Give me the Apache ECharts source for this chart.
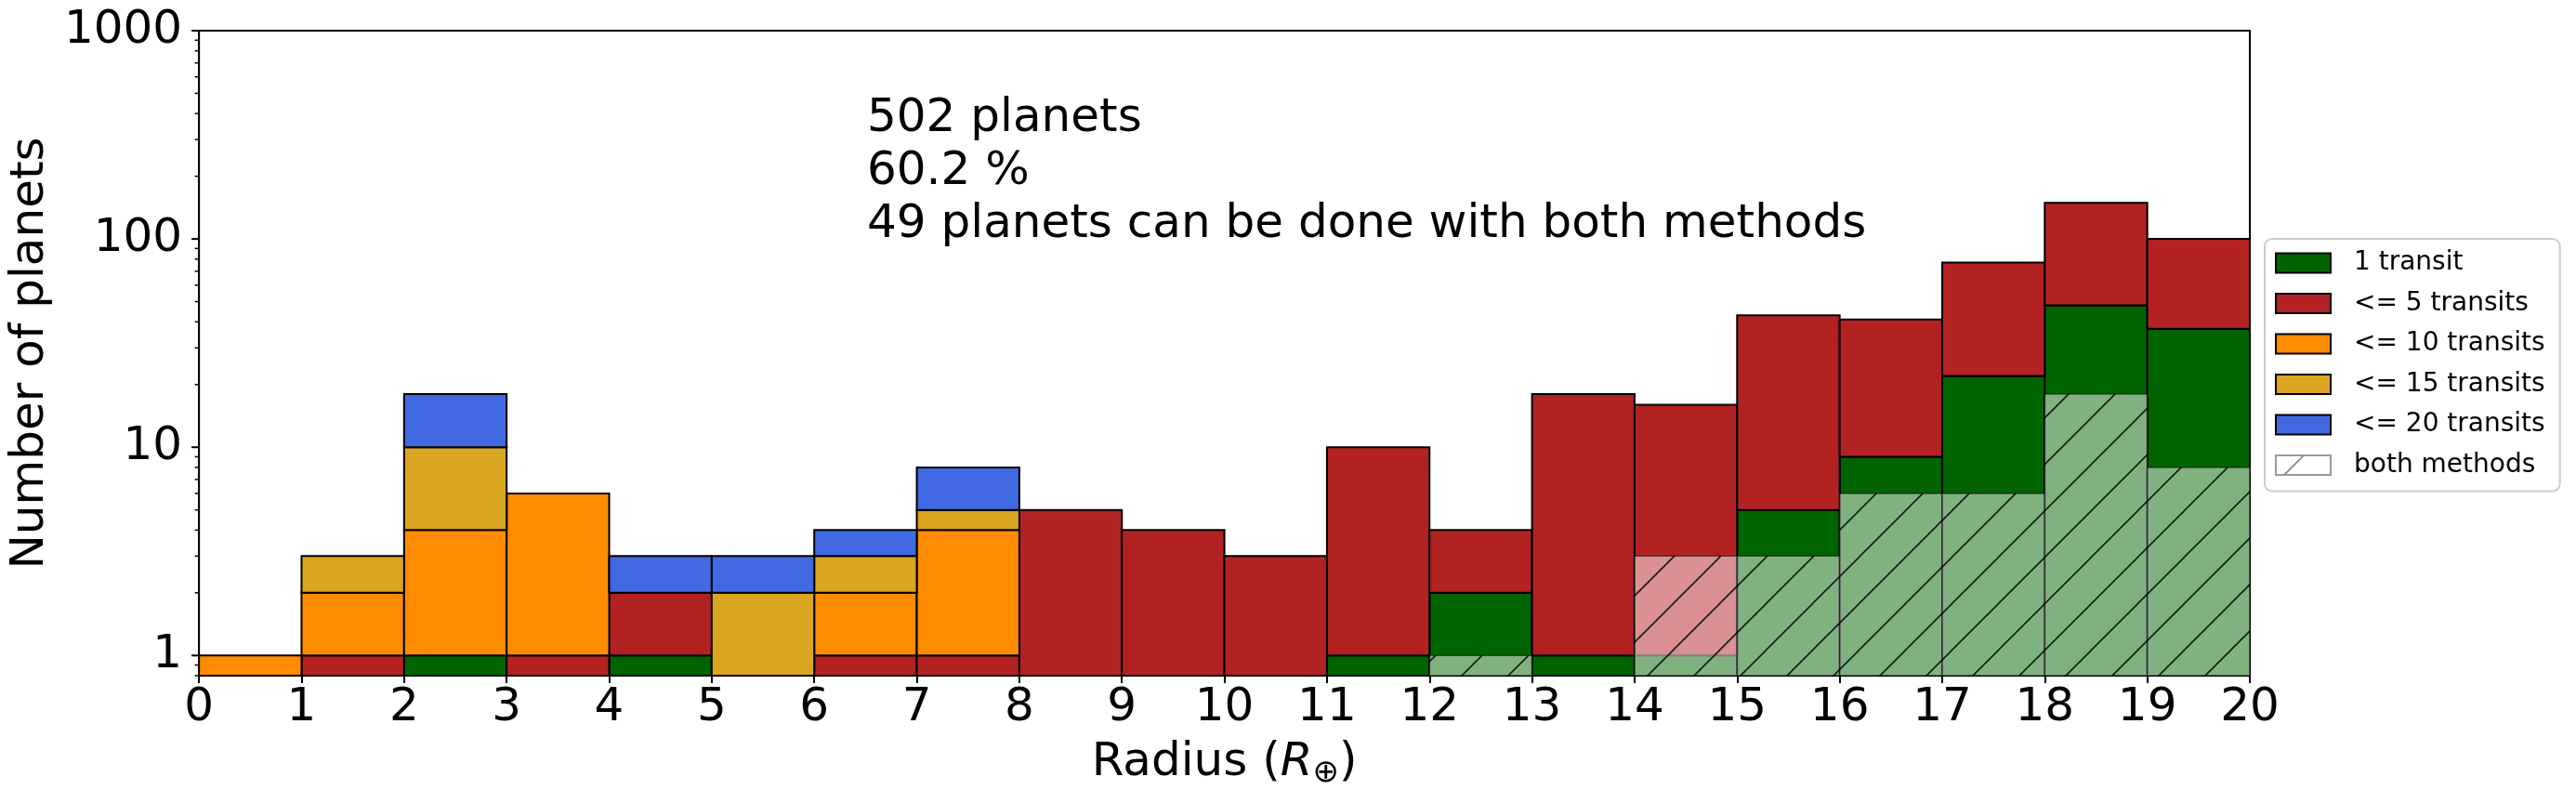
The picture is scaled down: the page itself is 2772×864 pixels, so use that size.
<!DOCTYPE html>
<html>
<head>
<meta charset="utf-8">
<script src="https://cdn.jsdelivr.net/npm/echarts@6/dist/echarts.min.js"></script>
<style>
html,body{margin:0;padding:0;background:#fff;}
#chart{width:2772px;height:864px;}
</style>
</head>
<body>
<div id="chart"></div>
<script>
// ---- data ----
const binEdges = [0,1,2,3,4,5,6,7,8,9,10,11,12,13,14,15,16,17,18,19,20];
const oneTransit    = [0,0,1,0,1,0,0,0,0,0,0,1,2,1,1,5,9,22,48,37];
const fiveTransits  = [0,1,0,1,1,0,1,1,5,4,3,9,2,17,15,38,32,55,101,63];
const tenTransits   = [1,1,3,5,0,0,1,3,0,0,0,0,0,0,0,0,0,0,0,0];
const fifteenTransits = [0,1,6,0,0,2,1,1,0,0,0,0,0,0,0,0,0,0,0,0];
const twentyTransits  = [0,0,8,0,1,1,1,3,0,0,0,0,0,0,0,0,0,0,0,0];
const bothMethods   = [0,0,0,0,0,0,0,0,0,0,0,0,1,0,3,3,6,6,18,8];
const seriesNames = ['1 transit','<= 5 transits','<= 10 transits','<= 15 transits','<= 20 transits','both methods'];
const xTicks = binEdges;
const yMajorTicks = [1,10,100,1000];
const yMinorTicks = [0.8,0.9,2,3,4,5,6,7,8,9,20,30,40,50,60,70,80,90,200,300,400,500,600,700,800,900];
const annotationLines = ['502 planets','60.2 %','49 planets can be done with both methods'];

// ---- styling ----
const FONT = 'DejaVu Sans';
const colors = ['#006400','#b22222','#ff8c00','#daa520','#4169e1'];
const layers = [oneTransit, fiveTransits, tenTransits, fifteenTransits, twentyTransits];

function hatchCanvas(bg, lineColor, size, offset) {
  const s = size;
  const c = document.createElement('canvas');
  c.width = s; c.height = s;
  const g = c.getContext('2d');
  if (bg) { g.fillStyle = bg; g.fillRect(0,0,s,s); }
  g.strokeStyle = lineColor;
  g.lineWidth = 1.6;
  for (let k = -1; k <= 1; k++) {
    const cc = s + k * s + offset;
    g.beginPath();
    g.moveTo(-10, cc + 10);
    g.lineTo(s + 10, cc - s - 10);
    g.stroke();
  }
  return c;
}
const overlayPattern = {image: hatchCanvas('rgba(255,255,255,0.5)', 'rgba(0,0,0,0.85)', 50, 0), repeat: 'repeat'};
const legendPattern = {image: hatchCanvas('#ffffff', 'rgba(130,130,130,1)', 64, 30), repeat: 'repeat'};

function makeRender(fill, stroke, lw) {
  return function (params, api) {
    const x0 = api.value(0), x1 = api.value(1), b = api.value(2), t = api.value(3);
    const cs = params.coordSys;
    const pTL = api.coord([x0, t]);
    const pTR = api.coord([x1, t]);
    const yB = b > 0 ? api.coord([x0, b])[1] : cs.y + cs.height;
    return {
      type: 'rect',
      shape: {x: pTL[0], y: pTL[1], width: pTR[0] - pTL[0], height: yB - pTL[1]},
      style: {fill: fill, stroke: stroke, lineWidth: lw}
    };
  };
}

const series = [];
const cum = new Array(binEdges.length - 1).fill(0);
layers.forEach((vals, li) => {
  const data = [];
  vals.forEach((v, i) => {
    if (v > 0) data.push([binEdges[i], binEdges[i+1], cum[i], cum[i] + v]);
    cum[i] += v;
  });
  series.push({
    type: 'custom',
    name: seriesNames[li],
    coordinateSystem: 'cartesian2d',
    itemStyle: {color: colors[li], borderColor: '#000', borderWidth: 2},
    encode: {x: [0,1], y: [3]},
    renderItem: makeRender(colors[li], '#000', 2),
    data: data,
    z: 2
  });
});
// overlay "both methods"
const bothData = [];
bothMethods.forEach((v, i) => { if (v > 0) bothData.push([binEdges[i], binEdges[i+1], 0, v]); });
series.push({
  type: 'custom',
  name: seriesNames[5],
  coordinateSystem: 'cartesian2d',
  itemStyle: {color: '#ffffff', borderColor: '#999', borderWidth: 2},
  encode: {x: [0,1], y: [3]},
  renderItem: makeRender(overlayPattern, 'rgba(0,0,0,0.5)', 1.5),
  data: bothData,
  z: 3
});
// y ticks (major + minor) drawn through the log axis
const tickData = yMajorTicks.map(v => [0, v, 1]).concat(yMinorTicks.map(v => [0, v, 0]));
series.push({
  type: 'custom',
  name: 'yticks',
  coordinateSystem: 'cartesian2d',
  clip: false,
  silent: true,
  encode: {x: 0, y: 1},
  renderItem: function (params, api) {
    const p = api.coord([api.value(0), api.value(1)]);
    const len = api.value(2) ? 8 : 4.5;
    return {type: 'line', shape: {x1: p[0] - len, y1: p[1], x2: p[0], y2: p[1]},
            style: {stroke: '#000', lineWidth: api.value(2) ? 2 : 1.5}};
  },
  data: tickData,
  z: 5
});

const chart = echarts.init(document.getElementById('chart'), null, {renderer: 'canvas'});
chart.setOption({
  animation: false,
  backgroundColor: '#fff',
  grid: {left: 213, top: 33, width: 2208, height: 694, show: true, borderColor: '#000', borderWidth: 2, backgroundColor: 'transparent'},
  xAxis: {
    type: 'value', min: 0, max: 20, interval: 1,
    axisLine: {show: true, lineStyle: {color: '#000', width: 2}},
    axisTick: {show: true, length: 8, lineStyle: {color: '#000', width: 2}},
    axisLabel: {fontFamily: FONT, fontSize: 50, color: '#000', margin: 10,
      formatter: v => (xTicks.indexOf(v) >= 0 ? String(v) : '')},
    splitLine: {show: false},
    name: '{n|Radius (}{i|R}{s|⊕}{n|)}',
    nameLocation: 'middle', nameGap: 66,
    nameTextStyle: {fontFamily: FONT, fontSize: 50, color: '#000',
      rich: {
        n: {fontFamily: FONT, fontSize: 50, color: '#000'},
        i: {fontFamily: FONT, fontSize: 50, fontStyle: 'italic', color: '#000'},
        s: {fontFamily: FONT, fontSize: 34, color: '#000', padding: [22, 0, 0, 0]}
      }}
  },
  yAxis: {
    type: 'log', logBase: 10, min: 0.8, max: 1000,
    axisLine: {show: true, lineStyle: {color: '#000', width: 2}},
    axisTick: {show: false},
    axisLabel: {fontFamily: FONT, fontSize: 50, color: '#000', margin: 18,
      formatter: v => {
        for (const t of yMajorTicks) { if (Math.abs(v - t) / t < 1e-6) return String(t); }
        return '';
      }},
    splitLine: {show: false},
    minorTick: {show: false},
    name: 'Number of planets',
    nameLocation: 'middle', nameGap: 152,
    nameTextStyle: {fontFamily: FONT, fontSize: 50, color: '#000'}
  },
  legend: {
    data: [
      {name: seriesNames[0]},
      {name: seriesNames[1]},
      {name: seriesNames[2]},
      {name: seriesNames[3]},
      {name: seriesNames[4]},
      {name: seriesNames[5], itemStyle: {color: legendPattern, borderColor: '#999', borderWidth: 2}}
    ],
    orient: 'vertical',
    left: 2437, top: 257,
    icon: 'rect',
    itemWidth: 59, itemHeight: 21, itemGap: 15.5,
    itemStyle: {borderColor: '#000', borderWidth: 2},
    padding: [12, 16, 14, 11],
    backgroundColor: '#fff',
    borderColor: '#cccccc', borderWidth: 2, borderRadius: 8,
    selectedMode: false,
    textStyle: {fontFamily: FONT, fontSize: 28, color: '#000', padding: [0, 0, 0, 20]}
  },
  graphic: [{
    type: 'text', left: 933, top: 100,
    style: {text: annotationLines.join('\n'), font: '50px "DejaVu Sans"', fill: '#000', lineHeight: 57}
  }],
  series: series
});
</script>
</body>
</html>
